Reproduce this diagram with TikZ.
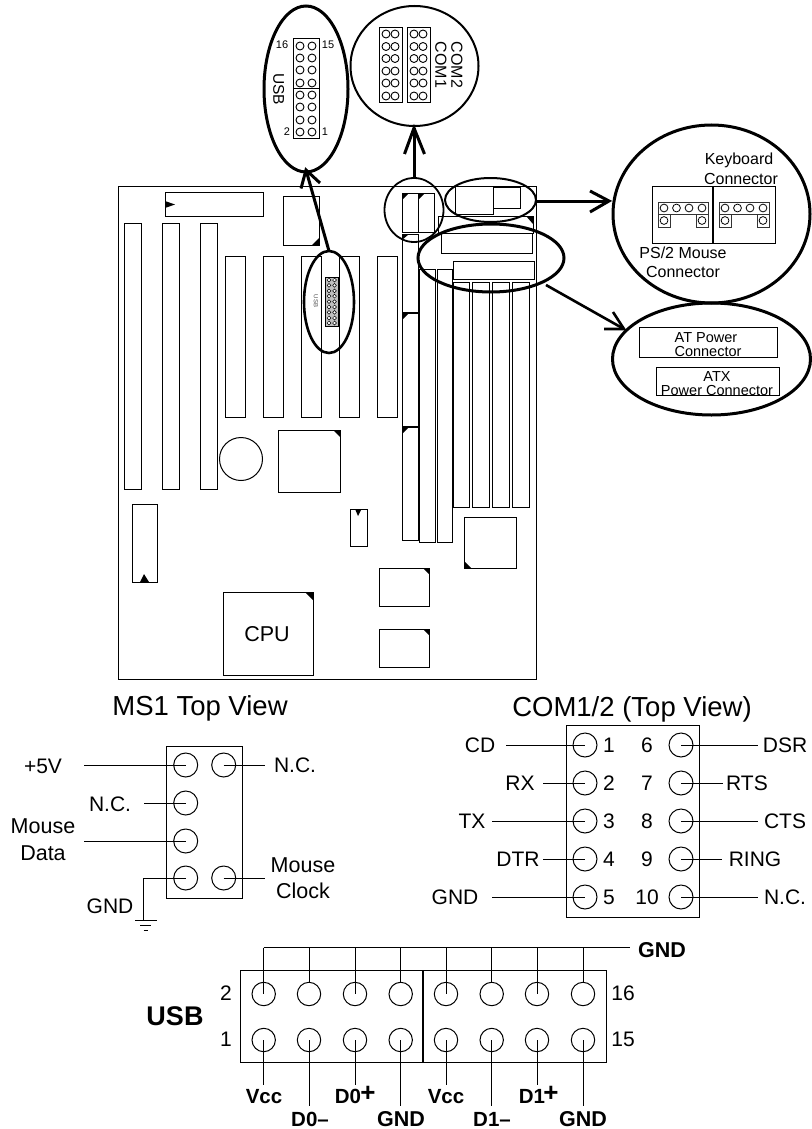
\documentclass[tikz,border=0pt]{standalone}
\usepackage{fontspec}
\setmainfont{Liberation Sans}
\newcommand\fsz[1]{\fontsize{#1}{#1}\selectfont}
\tikzset{
  part/.style={draw=black,line width=1pt},
  mark3/.style={fill=black,draw=none},
  halo/.style={draw=black,line width=#1},
  bigarrow/.style={draw=black,line width=#1,line cap=butt},
  lab/.style={inner sep=0pt,text depth=0pt,font=\fsz{#1},text height={0.716*#1pt},text=black},
  blab/.style={inner sep=0pt,text depth=0pt,font=\bfseries\fsz{#1},text height={0.716*#1pt},text=black},
  pin/.style={circle,draw=black,line width=1pt,minimum size=#1,inner sep=0pt},
  wire/.style={draw=black,line width=1pt},
}
\begin{document}
\begin{tikzpicture}[x=1pt,y=-1pt]
\useasboundingbox (0,0) rectangle (811,1129);
% ---------- board
\draw[part] (118,186) rectangle (536,679);
\draw[part] (165,192) rectangle (263,216);
\fill[mark3] (165,201) -- (175,204.5) -- (165,208) -- cycle;
\draw[part] (283,196) rectangle (319,245);
\fill[mark3] (319,238) -- (319,245) -- (312,245) -- cycle;
\foreach \a/\b in {124/141.5,162/179.5,200/217} \draw[part] (\a,223.5) rectangle (\b,489);
\foreach \a/\b in {225/245,263/283,301/321,339/359,377/397} \draw[part] (\a,256) rectangle (\b,417);
\node[circle,draw=black,line width=1pt,minimum size=43pt,inner sep=0pt] (battery) at (241,459) {};
\draw[part] (278,430) rectangle (340,492);
\fill[mark3] (333,430) -- (340,430) -- (340,437) -- cycle;
% memory and slots
\draw[part] (402,193) rectangle (418,232);
\draw[part] (418,193) rectangle (434,232);
\fill[mark3] (402,193) -- (409,193) -- (402,200) -- cycle;
\fill[mark3] (418,193) -- (425,193) -- (418,200) -- cycle;
\draw[part] (402,234) rectangle (418,312);
\fill[mark3] (402,234) -- (409,234) -- (402,240) -- cycle;
\draw[part] (402,313) rectangle (418,426);
\fill[mark3] (402,313) -- (409,313) -- (402,320) -- cycle;
\draw[part] (402,427) rectangle (418,540);
\fill[mark3] (402,427) -- (409,427) -- (402,434) -- cycle;
\draw[part] (419.5,269) rectangle (435,542);
\draw[part] (437,269) rectangle (452,542);
\foreach \a/\b in {453/469,472/489.5,492/509.5,512/529.5} \draw[part] (\a,282) rectangle (\b,507);
\draw[part] (438,216) rectangle (533,233);
\fill[mark3] (533,216) -- (533,224) -- (526,216) -- cycle;
\draw[part] (441,233) rectangle (532,253);
\draw[part] (453,261) rectangle (534,279);
\draw[part] (455,186) rectangle (493,214);
\draw[part] (493,187) rectangle (520,208);
% lower chips
\draw[part] (132,504) rectangle (157,582);
\fill[mark3] (140,582) -- (144,574) -- (149,582) -- cycle;
\draw[part] (350,509) rectangle (367,546);
\fill[mark3] (355,509) -- (358,516) -- (361.5,509) -- cycle;
\draw[part] (464,517) rectangle (516,568);
\fill[mark3] (464,561) -- (471,568) -- (464,568) -- cycle;
\draw[part] (379,568) rectangle (429,606);
\fill[mark3] (423,568) -- (429,568) -- (429,574) -- cycle;
\draw[part] (379,629) rectangle (429,667);
\fill[mark3] (423,629) -- (429,629) -- (429,635) -- cycle;
\draw[part] (223,592) rectangle (313,675);
\fill[mark3] (305,592) -- (313,592) -- (313,600) -- cycle;
\node[lab=21.5] (cpu) at (267,634) {CPU};
% small USB on the board
\draw[part,line width=.6pt,fill=black!25] (325,277) rectangle (338,326);
\foreach \y in {280,285.4,290.8,296.2,301.6,307,312.4,318,323} {\foreach \x in {329,334.5}
  \draw[black,line width=.5pt,fill=white] (\x,\y) circle (1.9);}
\node[lab=6,rotate=-90,text=black!70] (usbtiny) at (316,301) {USB};
% ---------- halos on the board
\draw[halo=2.6pt] (329,302) ellipse [x radius=25,y radius=51];
\draw[halo=1.8pt] (414,210) ellipse [x radius=29.5,y radius=32];
\draw[halo=2pt] (490.5,200) ellipse [x radius=45.5,y radius=22];
\draw[halo=3pt] (491,258) ellipse [x radius=73,y radius=34];
% ---------- USB magnified
\draw[halo=3pt] (306,89) ellipse [x radius=42,y radius=83];
\draw[part] (293,39) rectangle (319,138);
\draw[line width=1pt] (293,89) -- (319,89);
\foreach \y in {46,58,70,83,95,107,120,132} {\foreach \x in {300,312}
  \draw[line width=.9pt] (\x,\y) circle (4);}
\node[lab=11] (u16) at (282,45) {16};
\node[lab=11] (u15) at (328,45) {15};
\node[lab=11] (u2) at (287,132) {2};
\node[lab=11] (u1) at (325,132) {1};
\node[lab=15.5,rotate=-90] (usbrot) at (279,89) {USB};
% ---------- COM magnified
\draw[halo=2pt] (414.5,66) ellipse [x radius=64,y radius=60];
\draw[part] (379,28) rectangle (402,103);
\draw[part] (407,28) rectangle (430,103);
\foreach \y in {34,46.5,58.5,71,83,96} {\foreach \x in {386,395,414,423}
  \draw[line width=.9pt] (\x,\y) circle (4);}
\node[lab=16,rotate=-90] (com2) at (457,65) {COM2};
\node[lab=16,rotate=-90] (com1) at (441,65) {COM1};
% ---------- keyboard magnified
\draw[halo=3pt] (711.5,214) ellipse [x radius=98.5,y radius=89];
\draw[part] (652,186) rectangle (775,243);
\draw[line width=1.3pt] (713,186) -- (713,243);
\foreach \o in {658,719} {
  \begin{scope}[shift={(\o,0)}]
  \draw[line width=.7pt,draw=black!80] (0,202) rectangle (50,214);
  \draw[line width=.7pt,draw=black!80] (0,214) rectangle (12,227);
  \draw[line width=.7pt,draw=black!80] (38,214) rectangle (50,227);
  \foreach \x/\y in {6/208,18.5/208,31/208,44/208,6/220.5,44/220.5}
    \draw[line width=.8pt] (\x,\y) circle (3.9);
  \end{scope}}
\node[lab=16] (kb1) at (739,159) {Keyboard};
\node[lab=16] (kb2) at (741,179) {Connector};
\node[lab=16] (ps1) at (683,253) {PS/2 Mouse};
\node[lab=16] (ps2) at (683,272) {Connector};
% ---------- power magnified
\draw[halo=3pt] (711.5,359) ellipse [x radius=99,y radius=56];
\draw[part] (639,327) rectangle (777,357);
\draw[part] (656,367) rectangle (779,395);
\node[lab=14.5] (at1) at (706,337) {AT Power};
\node[lab=14.5] (at2) at (708,351) {Connector};
\node[lab=14.5] (atx1) at (717,376) {ATX};
\node[lab=14.5] (atx2) at (717,390) {Power Connector};
% ---------- arrows
\coordinate (a1s) at (329,251); \coordinate (a1t) at (306,170);
\draw[bigarrow=3pt] (a1s) -- (a1t);
\draw[bigarrow=3pt,line join=miter] (301,188.5) -- (a1t) -- (320,183);
\coordinate (a2s) at (414,177); \coordinate (a2t) at (414,128);
\draw[bigarrow=3pt] (a2s) -- (a2t);
\draw[bigarrow=3pt] (404.5,154) -- (a2t) -- (424.5,154);
\coordinate (a3s) at (536,201); \coordinate (a3t) at (609,201);
\draw[bigarrow=3pt] (a3s) -- (a3t);
\draw[bigarrow=3pt] (590,191) -- (a3t) -- (590,212);
\coordinate (a4s) at (546,285); \coordinate (a4t) at (624,329);
\draw[bigarrow=2.6pt] (a4s) -- (a4t);
\draw[bigarrow=2.6pt] (613,312) -- (a4t) -- (604,329);
% ---------- MS1
\node[lab=27.5] (mstitle) at (200,706) {MS1 Top View};
\draw[wire] (166.7,746) rectangle (242.7,898);
\foreach \n/\x/\y in {a/185.7/765,b/223.7/765,c/185.7/803,d/185.7/841,e/185.7/878,f/223.7/878}
  \node[pin=24pt] (ms\n) at (\x,\y) {};
\node[lab=21] (ms5v) at (43,766) {+5V};
\node[lab=21] (msnc1) at (295,765) {N.C.};
\node[lab=21] (msnc2) at (110,804) {N.C.};
\node[lab=21.5] (msd1) at (43,826) {Mouse};
\node[lab=21.5] (msd2) at (43,853) {Data};
\node[lab=21.5] (msc1) at (303,865) {Mouse};
\node[lab=21.5] (msc2) at (303,891) {Clock};
\node[lab=21] (msgnd) at (110,906) {GND};
\coordinate (w1) at (84,765); \coordinate (w2) at (265,765); \coordinate (w3) at (144,803);
\coordinate (w4) at (84,841); \coordinate (w5) at (143.5,878); \coordinate (w6) at (143.5,920);
\coordinate (w7) at (265,878);
\draw[wire] (w1) -- (msa.center);
\draw[wire] (msb.center) -- (w2);
\draw[wire] (w3) -- (msc.center);
\draw[wire] (w4) -- (msd.center);
\draw[wire] (mse.center) -- (w5) -- (w6);
\draw[wire] (msf.center) -- (w7);
\draw[wire] (135,920) -- (157,920);
\draw[wire] (140,925) -- (151,925);
\draw[wire] (143.5,930) -- (148,930);
% ---------- COM1/2
\node[lab=27.5] (comtitle) at (632,707) {COM1/2 (Top View)};
\draw[wire] (566,725) rectangle (699,917);
\foreach \n/\y/\ea/\eb/\ta/\tb/\xa/\xb/\na/\nb in {
  1/745/506/758/CD/DSR/480/785/1/6,
  2/783/543/723/RX/RTS/520/747/2/7,
  3/821/492/758/TX/CTS/472/785/3/8,
  4/859/543/722/DTR/RING/518/755/4/9,
  5/897/492/758/GND/N.C./455/785/5/10}{
  \node[pin=24pt] (cl\n) at (585,\y) {};
  \node[pin=24pt] (cr\n) at (681,\y) {};
  \node[lab=21] (cn\n) at (609,\y) {\na};
  \node[lab=21] (cm\n) at (647,\y) {\nb};
  \node[lab=21] (cll\n) at (\xa,\y) {\ta};
  \node[lab=21] (crl\n) at (\xb,\y) {\tb};
  \coordinate (ce\n) at (\ea,\y);
  \coordinate (cf\n) at (\eb,\y);
  \draw[wire] (ce\n) -- (cl\n.center);
  \draw[wire] (cr\n.center) -- (cf\n);
}
% ---------- USB pinout
\draw[wire] (240.7,970.7) rectangle (606,1062.7);
\draw[line width=1.3pt] (423,970.7) -- (423,1062.7);
\node[blab=27] (usbt) at (175,1016) {USB};
\node[lab=21] (n2) at (226,993) {2};
\node[lab=21] (n1) at (226,1039) {1};
\node[lab=21] (n16) at (623,993) {16};
\node[lab=21] (n15) at (623,1039) {15};
\coordinate (gndr) at (630,947.7);
\node[blab=21.5] (gndt) at (662,950) {GND};
\foreach \n/\x/\k/\ey in {1/263.7/center/1085,2/309/north/1106,3/355/center/1085,4/400.7/north/1106,
                          5/446/center/1085,6/491.7/north/1106,7/537/center/1085,8/583/north/1106}{
  \node[pin=23.4pt] (ut\n) at (\x,994) {};
  \node[pin=23.4pt] (ub\n) at (\x,1040) {};
  \coordinate (uu\n) at (\x,947.7);
  \coordinate (ud\n) at (\x,\ey);
  \draw[wire] (uu\n) -- (ut\n.\k);
  \draw[wire] (ub\n.center) -- (ud\n);
}
\draw[wire] (uu1) -- (gndr);
\node[blab=20.5] (v1) at (264,1096) {Vcc};
\node[blab=20.5] (d0m) at (310,1119) {D0–};
\node[blab=20.5] (d0p) at (348,1096) {D0};
\node[blab=26] (d0pp) at (368,1092) {+};
\node[blab=21.5] (g1) at (401,1119) {GND};
\node[blab=20.5] (v2) at (446,1096) {Vcc};
\node[blab=20.5] (d1m) at (492,1119) {D1–};
\node[blab=20.5] (d1p) at (532,1096) {D1};
\node[blab=26] (d1pp) at (551,1092) {+};
\node[blab=21.5] (g2) at (583,1119) {GND};
\end{tikzpicture}
\end{document}
